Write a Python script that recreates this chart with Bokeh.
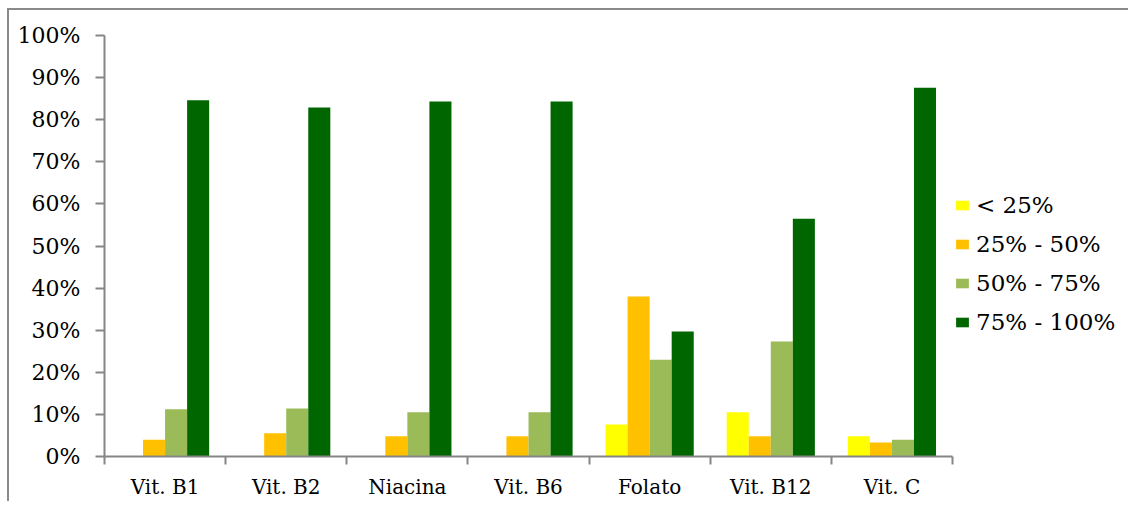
from bokeh.plotting import figure
from bokeh.models import ColumnDataSource, Range1d, FixedTicker, Legend, LegendItem, PrintfTickFormatter
from bokeh.transform import dodge
from bokeh.embed import file_html
from bokeh.resources import INLINE

categories = ["Vit. B1", "Vit. B2", "Niacina", "Vit. B6", "Folato", "Vit. B12", "Vit. C"]
series_names = ["< 25%", "25% - 50%", "50% - 75%", "75% - 100%"]
lt25 = [0.0, 0.0, 0.0, 0.0, 7.6, 10.5, 4.8]
p25_50 = [4.0, 5.5, 4.8, 4.8, 38.0, 4.8, 3.3]
p50_75 = [11.2, 11.4, 10.5, 10.5, 23.0, 27.3, 4.0]
p75_100 = [84.6, 82.9, 84.3, 84.3, 29.7, 56.5, 87.6]
colors = ["#FFFF00", "#FFC000", "#9BBB59", "#006600"]
y_ticks = list(range(0, 101, 10))

centers = [i + 0.5 for i in range(len(categories))]
source = ColumnDataSource(dict(x=centers, a=lt25, b=p25_50, c=p50_75, d=p75_100))

FONT = "DejaVu Serif"
AXIS = "#868686"

p = figure(frame_width=848, frame_height=421, output_backend="svg", toolbar_location=None,
           x_range=Range1d(0, len(categories)), y_range=Range1d(0, 100),
           min_border_left=95, min_border_right=160, min_border_top=25, min_border_bottom=40)
p.styles = {"border-top": "2px solid #8a8a8a", "border-left": "2px solid #8a8a8a",
            "margin-left": "7px", "margin-top": "8px"}
p.outline_line_color = None
p.xgrid.grid_line_color = None
p.ygrid.grid_line_color = None

w = 0.182
offs = [-1.5 * w, -0.5 * w, 0.5 * w, 1.5 * w]
renderers = []
for col, off, c in zip(["a", "b", "c", "d"], offs, colors):
    r = p.vbar(x=dodge("x", off, range=p.x_range), top=col, width=w, source=source,
               fill_color=c, line_color=None)
    renderers.append(r)

# x axis
p.xaxis.ticker = FixedTicker(ticks=centers, minor_ticks=list(range(len(categories) + 1)))
p.xaxis.major_label_overrides = {c: name for c, name in zip(centers, categories)}
p.xaxis.major_tick_out = 0
p.xaxis.major_tick_in = 0
p.xaxis.minor_tick_out = 8
p.xaxis.minor_tick_in = 0
p.xaxis.minor_tick_line_color = AXIS
p.xaxis.minor_tick_line_width = 2
p.xaxis.axis_line_color = AXIS
p.xaxis.axis_line_width = 2
p.xaxis.major_label_text_font = FONT
p.xaxis.major_label_text_font_size = "20px"
p.xaxis.major_label_text_color = "black"
p.xaxis.major_label_standoff = 10

# y axis
p.yaxis.ticker = FixedTicker(ticks=y_ticks, minor_ticks=[])
p.yaxis.formatter = PrintfTickFormatter(format="%d%%")
p.yaxis.major_tick_out = 9
p.yaxis.major_tick_in = 0
p.yaxis.major_tick_line_color = AXIS
p.yaxis.major_tick_line_width = 2
p.yaxis.axis_line_color = AXIS
p.yaxis.axis_line_width = 2
p.yaxis.major_label_text_font = FONT
p.yaxis.major_label_text_font_size = "22px"
p.yaxis.major_label_text_color = "black"
p.yaxis.major_label_standoff = 15

legend = Legend(items=[LegendItem(label=n, renderers=[r]) for n, r in zip(series_names, renderers)],
                location=(2, 121), orientation="vertical")
legend.label_text_font = FONT
legend.label_text_font_size = "23px"
legend.label_text_color = "black"
legend.glyph_width = 16
legend.glyph_height = 12
legend.label_standoff = 6
legend.spacing = 13
legend.padding = 0
legend.margin = 0
legend.border_line_color = None
legend.background_fill_alpha = 0
p.add_layout(legend, "right")

open("out.html", "w").write(file_html(p, INLINE))
